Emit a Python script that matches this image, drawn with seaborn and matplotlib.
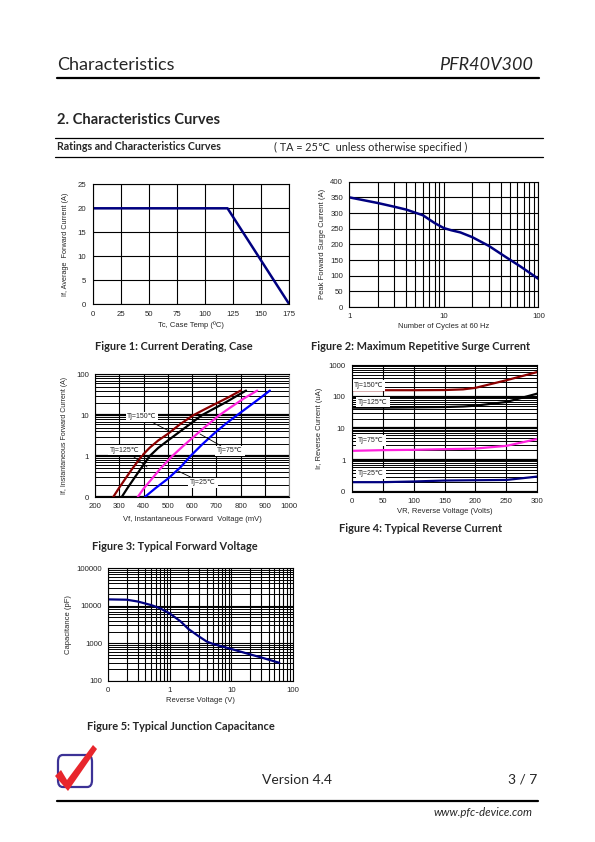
import matplotlib
matplotlib.use('Agg')
import matplotlib.pyplot as plt
from matplotlib.lines import Line2D
from matplotlib.patches import FancyBboxPatch, Polygon
from matplotlib.ticker import FixedLocator, NullFormatter
import seaborn as sns

W, H = 595, 842

# Figure 1: current derating
derate_temp = [0, 120, 175]
derate_current = [20, 20, 0]

# Figure 2: surge current vs cycles
surge_cycles = [1, 2, 3, 4, 5, 6, 8, 10, 12, 15, 20, 30, 45, 65, 100]
surge_current = [350, 332, 320, 311, 301, 293, 268, 252, 245, 238, 223, 195, 160, 129, 90]

# Figure 3: forward voltage (mV) / forward current (A)
vf_150 = [275, 300, 325, 350, 392, 425, 460, 500, 550, 605, 650, 700, 750, 800]
if_150 = [0.1, 0.17, 0.28, 0.46, 1, 1.6, 2.4, 3.5, 6.0, 10, 13.8, 19.5, 27.5, 40]
vf_125 = [310, 335, 360, 385, 425, 460, 500, 550, 595, 640, 690, 740, 780, 822]
if_125 = [0.1, 0.17, 0.28, 0.46, 1, 1.58, 2.4, 4.0, 6.3, 10, 14.5, 20.9, 28.8, 40]
vf_75 = [376, 400, 430, 470, 518, 560, 600, 650, 712, 760, 810, 868]
if_75 = [0.1, 0.16, 0.26, 0.5, 1, 1.7, 2.75, 5.0, 10, 15.8, 25, 40]
vf_25 = [405, 450, 500, 550, 593, 640, 690, 740, 785, 830, 875, 920]
if_25 = [0.1, 0.166, 0.28, 0.52, 1, 1.9, 3.55, 6.3, 10, 15.8, 25, 40]

# Figure 4: reverse current (uA) vs reverse voltage
vr = [0, 50, 100, 150, 180, 200, 250, 300]
ir_150 = [160, 160, 160, 162, 170, 190, 330, 600]
ir_125 = [45, 45, 46, 47, 49, 52, 68, 125]
ir_75 = [1.95, 2.05, 2.1, 2.2, 2.25, 2.3, 2.8, 4.6]
ir_25 = [0.2, 0.2, 0.21, 0.225, 0.228, 0.23, 0.235, 0.3]

# Figure 5: junction capacitance
cap_v = [0.1, 0.2, 0.3, 0.5, 0.7, 1, 1.5, 2, 3, 4, 5, 7, 10, 20, 30, 60]
cap_pf = [14800, 14500, 13000, 10400, 8500, 6200, 3800, 2400, 1500, 1100, 960, 820, 700, 505, 420, 300]

sns.set_style('white')
plt.rcParams['font.family'] = ['Liberation Sans', 'DejaVu Sans']
PAGE = ['Lato', 'DejaVu Sans']
NAVY = '#000080'
BROWN = '#8B0000'
MAGENTA = '#FF22DD'
BLUE = '#0000FF'

fig = plt.figure(figsize=(W / 100, H / 100), dpi=100)


def fx(x):
    return x / W


def fy(y):
    return 1 - y / H


def box(l, r, t, b):
    return fig.add_axes([fx(l), fy(b), (r - l) / W, (b - t) / H])


def hline(x0, x1, y, lw):
    fig.add_artist(Line2D([fx(x0), fx(x1)], [fy(y), fy(y)], color='black', lw=lw,
                          transform=fig.transFigure))


def style(ax):
    for s in ax.spines.values():
        s.set_color('black')
        s.set_linewidth(0.8)
    ax.tick_params(labelsize=5.6, length=2.5, width=0.6, pad=2, direction='out')
    ax.set_facecolor('white')


# ---------------- page text ----------------
fig.text(fx(57), fy(65), 'Characteristics', fontsize=13, family=PAGE, va='center')
fig.text(fx(533), fy(65), 'PFR40V300', fontsize=13, family=PAGE, style='italic',
         ha='right', va='center')
hline(57, 539, 78, 1.6)
fig.text(fx(57), fy(120), '2. Characteristics Curves', fontsize=10.6, family=PAGE,
         weight='bold', va='center')
hline(55, 543, 138, 0.9)
fig.text(fx(57), fy(147), 'Ratings and Characteristics Curves', fontsize=7.7, family=PAGE,
         weight='bold', va='center')
fig.text(fx(274), fy(147), '( TA = 25\u2103  unless otherwise specified )', fontsize=7.8,
         family=PAGE, va='center')
hline(55, 543, 157, 0.9)

# ---------------- Figure 1 ----------------
ax1 = box(92.7, 289.3, 184.3, 304.3)
style(ax1)
sns.lineplot(x=derate_temp, y=derate_current, ax=ax1, color=NAVY, lw=1.8, sort=False)
ax1.set_xlim(0, 175)
ax1.set_ylim(0, 25)
ax1.set_xticks(range(0, 176, 25))
ax1.set_yticks(range(0, 26, 5))
ax1.grid(True, color='black', lw=0.8)
ax1.set_xlabel('Tc, Case Temp (ºC)', fontsize=5.5, labelpad=3)
ax1.set_ylabel('If, Average  Forward Current (A)', fontsize=5.2, labelpad=6)
fig.text(fx(174), fy(347), 'Figure 1: Current Derating, Case', fontsize=7.9, family=PAGE,
         weight='bold', ha='center', va='center')

# ---------------- Figure 2 ----------------
ax2 = box(349.3, 538.3, 181.7, 307)
style(ax2)
sns.lineplot(x=surge_cycles, y=surge_current, ax=ax2, color=NAVY, lw=1.8)
ax2.set_xscale('log')
ax2.set_xlim(1, 100)
ax2.set_ylim(0, 400)
ax2.set_yticks(range(0, 401, 50))
ax2.xaxis.set_major_locator(FixedLocator([1, 10, 100]))
ax2.xaxis.set_minor_locator(FixedLocator([2, 3, 4, 5, 6, 7, 8, 9, 20, 30, 40, 50, 60, 70, 80, 90]))
ax2.set_xticklabels(['1', '10', '100'])
ax2.xaxis.set_minor_formatter(NullFormatter())
ax2.tick_params(axis='x', which='minor', length=0)
ax2.grid(True, which='both', color='black', lw=0.8)
ax2.set_xlabel('Number of Cycles at 60 Hz', fontsize=5.5, labelpad=2)
ax2.set_ylabel('Peak Forward Surge Current (A)', fontsize=5.5, labelpad=3)
fig.text(fx(421), fy(347), 'Figure 2: Maximum Repetitive Surge Current', fontsize=7.9,
         family=PAGE, weight='bold', ha='center', va='center')


def log_grid_y(ax, lo, hi):
    ax.yaxis.set_minor_locator(FixedLocator(
        [m * 10.0 ** d for d in range(lo, hi) for m in range(2, 10)]))
    ax.yaxis.set_minor_formatter(NullFormatter())
    ax.tick_params(axis='y', which='minor', length=0)
    ax.grid(True, which='minor', axis='y', color='black', lw=0.7)
    ax.grid(True, which='major', axis='y', color='black', lw=1.6)


# ---------------- Figure 3 ----------------
ax3 = box(95, 289.3, 374.3, 497)
style(ax3)
ax3.set_yscale('log')
for v, i, c in [(vf_150, if_150, BROWN), (vf_125, if_125, 'black'),
                (vf_75, if_75, MAGENTA), (vf_25, if_25, BLUE)]:
    sns.lineplot(x=v, y=i, ax=ax3, color=c, lw=1.6)
ax3.set_xlim(200, 1000)
ax3.set_ylim(0.1, 100)
ax3.set_xticks(range(200, 1001, 100))
ax3.yaxis.set_major_locator(FixedLocator([0.1, 1, 10, 100]))
ax3.set_yticklabels(['0', '1', '10', '100'])
log_grid_y(ax3, -1, 2)
ax3.grid(True, which='major', axis='x', color='black', lw=0.8)
ax3.spines['right'].set_color('#888888')
ax3.set_xlabel('Vf, Instantaneous Forward  Voltage (mV)', fontsize=5.5, labelpad=4)
ax3.set_ylabel('If, Instantaneous Forward Current (A)', fontsize=5, labelpad=6)

bbox = dict(boxstyle='square,pad=0.25', fc='white', ec='none')
fwd_labels = [('Tj=150\u2103', (142, 417), (171, 432)),
              ('Tj=125\u2103', (125, 450), (147, 467)),
              ('Tj=75\u2103', (230, 451), (200, 434)),
              ('Tj=25\u2103', (203, 483), (178, 471))]
for txt, (tx, ty), (px, py) in fwd_labels:
    ax3.annotate(txt, xy=(fx(px), fy(py)), xycoords='figure fraction',
                 xytext=(fx(tx), fy(ty)), textcoords='figure fraction',
                 fontsize=5, ha='center', va='center', bbox=bbox,
                 arrowprops=dict(arrowstyle='-', color='black', lw=0.6, shrinkA=0, shrinkB=0))
fig.text(fx(175), fy(546), 'Figure 3: Typical Forward Voltage', fontsize=7.9, family=PAGE,
         weight='bold', ha='center', va='center')

# ---------------- Figure 4 ----------------
ax4 = box(351.7, 537.3, 365, 491.7)
style(ax4)
ax4.set_yscale('log')
for i, c in [(ir_150, BROWN), (ir_125, 'black'), (ir_75, MAGENTA), (ir_25, NAVY)]:
    sns.lineplot(x=vr, y=i, ax=ax4, color=c, lw=1.6)
ax4.set_xlim(0, 300)
ax4.set_ylim(0.1, 1000)
ax4.set_xticks(range(0, 301, 50))
ax4.yaxis.set_major_locator(FixedLocator([0.1, 1, 10, 100, 1000]))
ax4.set_yticklabels(['0', '1', '10', '100', '1000'])
log_grid_y(ax4, -1, 3)
ax4.grid(True, which='major', axis='x', color='black', lw=0.8)
ax4.set_xlabel('VR, Reverse Voltage (Volts)', fontsize=5.5, labelpad=2)
ax4.set_ylabel('Ir, Reverse Current (uA)', fontsize=5.5, labelpad=4)
for txt, (tx, ty) in [('Tj=150\u2103', (369, 385.5)), ('Tj=125\u2103', (373, 402)),
                      ('Tj=75\u2103', (371, 440.5)), ('Tj=25\u2103', (371, 473.5))]:
    fig.text(fx(tx), fy(ty), txt, fontsize=5, ha='center', va='center', bbox=bbox, zorder=5)
fig.text(fx(421), fy(528), 'Figure 4: Typical Reverse Current', fontsize=7.9, family=PAGE,
         weight='bold', ha='center', va='center')

# ---------------- Figure 5 ----------------
ax5 = box(108.3, 293, 568.3, 680.7)
style(ax5)
ax5.set_xscale('log')
ax5.set_yscale('log')
sns.lineplot(x=cap_v, y=cap_pf, ax=ax5, color=NAVY, lw=1.6)
ax5.set_xlim(0.1, 100)
ax5.set_ylim(100, 100000)
ax5.xaxis.set_major_locator(FixedLocator([0.1, 1, 10, 100]))
ax5.set_xticklabels(['0', '1', '10', '100'])
ax5.xaxis.set_minor_locator(FixedLocator(
    [m * 10.0 ** d for d in range(-1, 2) for m in range(2, 10)]))
ax5.xaxis.set_minor_formatter(NullFormatter())
ax5.yaxis.set_major_locator(FixedLocator([100, 1000, 10000, 100000]))
ax5.set_yticklabels(['100', '1000', '10000', '100000'])
log_grid_y(ax5, 2, 5)
ax5.tick_params(axis='x', which='minor', length=0)
ax5.grid(True, which='both', axis='x', color='black', lw=0.8)
ax5.grid(True, which='major', axis='y', color='black', lw=0.8)
ax5.set_xlabel('Reverse Voltage (V)', fontsize=5.5, labelpad=2)
ax5.set_ylabel('Capacitance (pF)', fontsize=5.5, labelpad=3)
fig.text(fx(181), fy(726), 'Figure 5: Typical Junction Capacitance', fontsize=7.9,
         family=PAGE, weight='bold', ha='center', va='center')

# ---------------- footer ----------------
fig.add_artist(FancyBboxPatch((fx(58), fy(787)), (92 - 58) / W, (787 - 755) / H,
                              boxstyle='round,pad=0,rounding_size=0.008',
                              transform=fig.transFigure, fc='none', ec='#3c3296', lw=1.6))
check = [(55, 776), (61, 770), (67, 780), (93, 745), (97, 749), (68, 791)]
fig.add_artist(Polygon([(fx(a), fy(b)) for a, b in check], closed=True,
                       transform=fig.transFigure, fc='#e8262c', ec='none'))
fig.text(fx(297), fy(780), 'Version 4.4', fontsize=10, family=PAGE, ha='center', va='center')
fig.text(fx(537), fy(780), '3 / 7', fontsize=10, family=PAGE, ha='right', va='center')
hline(57, 538, 801, 1.6)
fig.text(fx(533), fy(812), 'www.pfc-device.com', fontsize=8.2, family=PAGE, style='italic',
         ha='right', va='center')

fig.savefig('out.png', dpi=100, facecolor='white')
